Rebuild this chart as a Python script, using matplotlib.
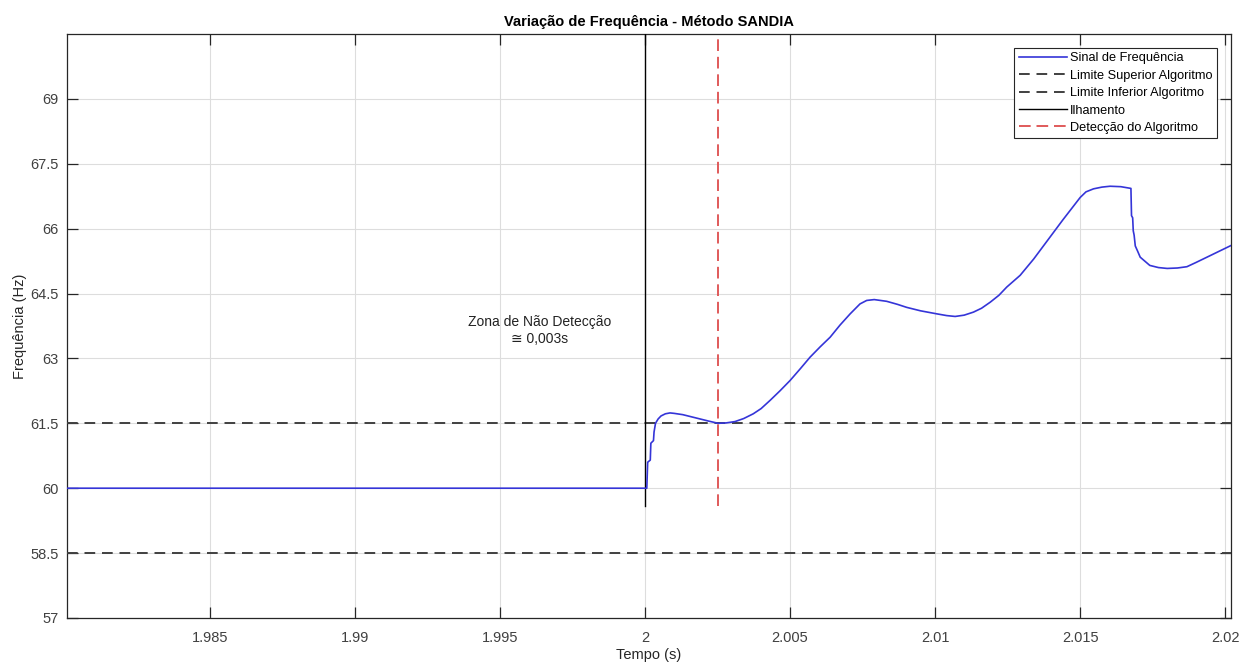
import numpy as np
import matplotlib
matplotlib.use("Agg")
from matplotlib import pyplot as plt

plt.rcParams["font.family"] = ["Liberation Sans", "DejaVu Sans"]

# sinal de frequencia (tempo em s, frequencia em Hz)
tempo = [1.98000, 2.00006, 2.00009, 2.00018, 2.00020, 2.00029, 2.00031, 2.00036,
         2.00045, 2.00055, 2.00070, 2.00086, 2.00100, 2.00130, 2.00160, 2.00190,
         2.00220, 2.00252, 2.00280, 2.00310, 2.00340, 2.00373, 2.00400, 2.00431,
         2.00465, 2.00500, 2.00535, 2.00569, 2.00604, 2.00638, 2.00672, 2.00707,
         2.00741, 2.00764, 2.00790, 2.00833, 2.00870, 2.00902, 2.00950, 2.01006,
         2.01040, 2.01069, 2.01100, 2.01132, 2.01160, 2.01190, 2.01220, 2.01247,
         2.01293, 2.01340, 2.01390, 2.01440, 2.01500, 2.01520, 2.01546, 2.01575,
         2.01603, 2.01640, 2.01675, 2.01677, 2.01681, 2.01683, 2.01686, 2.01690,
         2.01698, 2.01707, 2.01740, 2.01770, 2.01800, 2.01835, 2.01868, 2.01900,
         2.01937, 2.01980, 2.02020]
freq = [60.00, 60.00, 60.60, 60.65, 61.04, 61.10, 61.30, 61.50,
        61.60, 61.67, 61.72, 61.74, 61.73, 61.70, 61.65, 61.60,
        61.55, 61.50, 61.51, 61.54, 61.61, 61.72, 61.84, 62.03,
        62.25, 62.49, 62.76, 63.03, 63.27, 63.49, 63.77, 64.03,
        64.26, 64.34, 64.36, 64.32, 64.25, 64.18, 64.10, 64.03,
        63.99, 63.97, 64.00, 64.07, 64.16, 64.30, 64.46, 64.65,
        64.92, 65.30, 65.75, 66.20, 66.72, 66.85, 66.92, 66.96,
        66.98, 66.97, 66.93, 66.30, 66.25, 65.95, 65.85, 65.60,
        65.48, 65.34, 65.15, 65.10, 65.08, 65.09, 65.12, 65.22,
        65.34, 65.48, 65.61]

lim_sup = 61.5
lim_inf = 58.5
t_ilhamento = 2.0
t_deteccao = 2.0025

xticks = [1.985, 1.99, 1.995, 2.0, 2.005, 2.01, 2.015, 2.02]
xticklabels = ["1.985", "1.99", "1.995", "2", "2.005", "2.01", "2.015", "2.02"]
yticks = [57, 58.5, 60, 61.5, 63, 64.5, 66, 67.5, 69]
yticklabels = ["57", "58.5", "60", "61.5", "63", "64.5", "66", "67.5", "69"]

fig = plt.figure(figsize=(12.56, 6.66), dpi=100)
ax = fig.add_axes([0.0533, 0.0721, 0.9268, 0.8769])

ax.plot(tempo, freq, color="#3535d8", lw=1.2, label="Sinal de Frequência", zorder=4)
ax.axhline(lim_sup, color="#404040", lw=1.4, dashes=(5.5, 3.5), label="Limite Superior Algoritmo", zorder=3)
ax.axhline(lim_inf, color="#404040", lw=1.4, dashes=(5.5, 3.5), label="Limite Inferior Algoritmo", zorder=3)
ax.plot([t_ilhamento, t_ilhamento], [59.6, 70.5], color="black", lw=1.0, label="Ilhamento", zorder=3)
ax.plot([t_deteccao, t_deteccao], [59.6, 70.4], color="#e05a5a", lw=1.4, dashes=(6, 3), label="Detecção do Algoritmo", zorder=3)

ax.text(1.99638, 63.65, "Zona de Não Detecção\n≅ 0,003s", ha="center", va="center",
        fontsize=10, color="#222222", linespacing=1.3)

ax.set_xlim(1.98007, 2.0202)
ax.set_ylim(57, 70.5)
ax.set_xticks(xticks)
ax.set_xticklabels(xticklabels)
ax.set_yticks(yticks)
ax.set_yticklabels(yticklabels)
ax.grid(True, color="#dddddd", lw=0.8)
ax.set_axisbelow(True)
ax.tick_params(direction="in", length=8, width=0.9, colors="#262626", labelsize=10.5,
               top=True, right=True, labelcolor="#404040")
ax.tick_params(axis="x", pad=9.5)
ax.tick_params(axis="y", pad=6)
for s in ax.spines.values():
    s.set_color("#262626")
    s.set_linewidth(0.9)

ax.set_title("Variação de Frequência - Método SANDIA", fontsize=10.5, fontweight="bold", pad=6)
ax.set_xlabel("Tempo (s)", fontsize=10.5, color="#262626", labelpad=2)
ax.set_ylabel("Frequência (Hz)", fontsize=10.5, color="#262626", labelpad=2)

leg = ax.legend(loc="upper right", fontsize=9.2, fancybox=False, framealpha=1,
                edgecolor="#262626", handlelength=3.8, handletextpad=0.2,
                borderaxespad=1.1, labelspacing=0.42, borderpad=0.35)
leg.get_frame().set_linewidth(0.8)

fig.savefig("out.png", dpi=100)
